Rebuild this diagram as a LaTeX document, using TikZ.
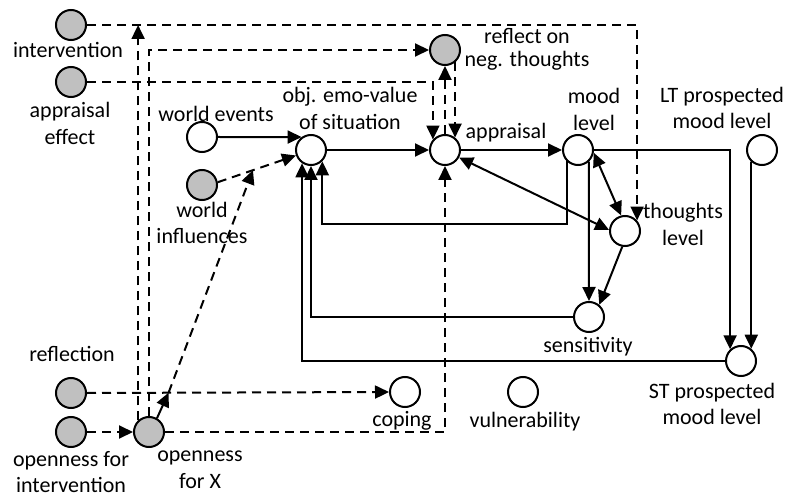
\documentclass[tikz,border=0pt]{standalone}
\usepackage{fontspec}
\setmainfont{Carlito}
\usetikzlibrary{arrows.meta}
\definecolor{nodegray}{RGB}{192,192,192}
\tikzset{
  state/.style={circle, draw=black, line width=2pt, fill=white, minimum size=30pt, inner sep=0pt},
  ext/.style={state, fill=nodegray},
  lbl/.style={font=\fontsize{22}{26.5}\selectfont, inner sep=0pt, align=center},
  tip/.style={-{Triangle[length=14pt,width=13pt]}},
  link/.style={line width=2pt, tip},
  dlink/.style={link, dash pattern=on 9pt off 6pt},
  both/.style={line width=2pt, {Triangle[length=14pt,width=13pt]}-{Triangle[length=14pt,width=13pt]}}
}
\begin{document}
\begin{tikzpicture}[x=1pt, y=-1pt]
\useasboundingbox (0,0) rectangle (787,497);

% external factors (grey) and model states (white)
\node[ext]   (int)   at (71,25)   {};
\node[ext]   (aeff)  at (71,82)   {};
\node[ext]   (refl)  at (445,50)  {};
\node[state] (wev)   at (202,137) {};
\node[state] (obj)   at (311,150) {};
\node[ext]   (winf)  at (202,185) {};
\node[state] (appr)  at (445,150) {};
\node[state] (mood)  at (578,150) {};
\node[state] (lt)    at (762,150) {};
\node[state] (thou)  at (625,231) {};
\node[state] (sens)  at (589,317) {};
\node[state] (st)    at (741,361) {};
\node[state] (cop)   at (405,392) {};
\node[state] (vul)   at (523,392) {};
\node[ext]   (rfl)   at (71,393)  {};
\node[ext]   (opint) at (71,432)  {};
\node[ext]   (opx)   at (149,432) {};

% labels
\node[lbl] (l-int)   at (68,52)    {\strut intervention};
\node[lbl] (l-aeff)  at (70,125.5) {\strut appraisal\\\strut effect};
\node[lbl, font=\fontsize{22}{20}\selectfont] (l-refl) at (527,50.5) {\strut reflect on\\\strut neg. thoughts};
\node[lbl] (l-wev)   at (216,116)  {\strut world events};
\node[lbl] (l-obj)   at (350,110.5){\strut obj. emo-value\\\strut of situation};
\node[lbl] (l-winf)  at (202,225)  {\strut world\\\strut influences};
\node[lbl] (l-appr)  at (506,133)  {\strut appraisal};
\node[lbl] (l-mood)  at (594,111.5){\strut mood\\\strut level};
\node[lbl] (l-lt)    at (722,110)  {\strut LT prospected\\\strut mood level};
\node[lbl] (l-thou)  at (683,226.5){\strut thoughts\\\strut level};
\node[lbl] (l-sens)  at (588,347)  {\strut sensitivity};
\node[lbl] (l-st)    at (712,406)  {\strut ST prospected\\\strut mood level};
\node[lbl] (l-cop)   at (402,421)  {\strut coping};
\node[lbl] (l-vul)   at (525,422)  {\strut vulnerability};
\node[lbl] (l-rfl)   at (72,356)   {\strut reflection};
\node[lbl] (l-opint) at (71,474)   {\strut openness for\\\strut intervention};
\node[lbl] (l-opx)   at (200,469.5){\strut openness\\\strut for X};

% solid causal links
\draw[link] (wev.east) -- (obj.126 -| obj.126);
\draw[link] (obj) -- (appr);
\draw[link] (appr) -- (mood);
\draw[both] (appr.-28) -- (thou.176);
\draw[both] (mood.-10) -- (thou.104);
\draw[link] (thou.-100) -- (sens.50);
\draw[link] (mood.-47) -- (sens.north);
\draw[link] (mood.east) -| (st.133);
\draw[link] (lt.-133) -- (st.50 |- lt.-133) -- (st.50);
\draw[link] (mood.-135) -- ++(0,63) -| (obj.-45);
\draw[link] (sens.west) -| (obj.south);
\draw[link] (st.west) -| (obj.-124);

% dashed influences of external factors
\draw[dlink] (int.east) -| (thou.41);
\draw[dlink] (aeff.east) -| (appr.139);
\draw[dlink] (appr.north) -- (refl.south);
\draw[dlink] (refl.-51) -- (appr.51);
\draw[dlink] (opx.north) |- (refl.west);
\draw[dlink] (opx.133) -- (opx.133 |- int.east);
\draw[dlink] (winf.10) -- coordinate[pos=0.45] (wmid) (obj.200);
\draw[dlink] (rfl.east) -- coordinate[pos=0.27] (rmid) (cop.west);
\draw[dlink] (rmid) -- (wmid);
\draw[link] (opx.60) -- (rmid);
\draw[dlink] (opint.east) -- (opx.west);
\draw[dlink] (opx.east) -| (appr.south);
\end{tikzpicture}
\end{document}
